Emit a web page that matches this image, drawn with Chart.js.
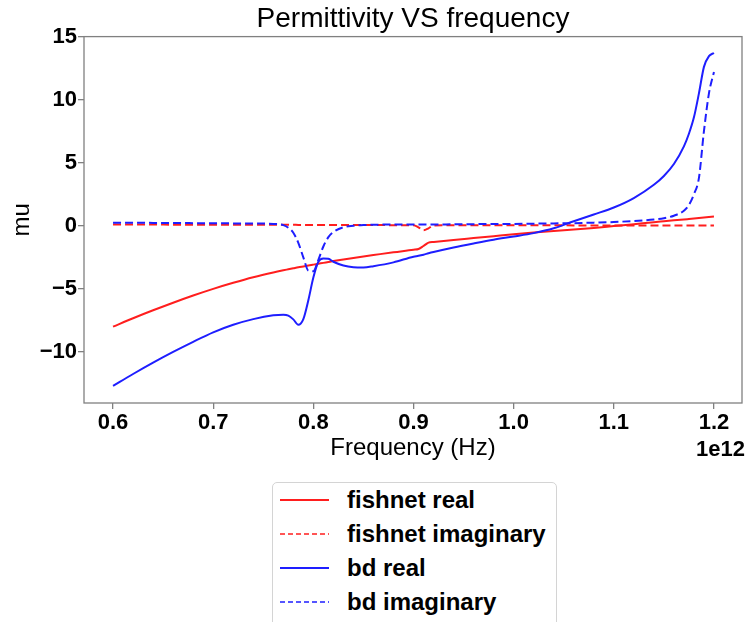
<!DOCTYPE html>
<html lang="en">
<head>
<meta charset="utf-8">
<title>Permittivity VS frequency</title>
<script src="https://cdn.jsdelivr.net/npm/chart.js"></script>
<style>
    html, body { margin: 0; padding: 0; background: #fff; overflow: hidden; }
    #chartContainer { position: relative; width: 746px; height: 622px; }
    #legendBox {
        position: absolute; left: 272px; top: 482px; width: 285px; height: 150px;
        border: 1px solid #d4d4d4; border-radius: 5px; background: #fff; box-sizing: border-box;
        font-family: "Liberation Sans", Arial, sans-serif; font-weight: bold; font-size: 24px; color: #000;
    }
    .legendItem { position: absolute; left: 7px; height: 34px; display: flex; align-items: center; white-space: nowrap; }
    .legendItem svg { margin-right: 18px; }
</style>
</head>
<body>

<div id="chartContainer">
    <canvas id="muChart" width="746" height="622"></canvas>
    <div id="legendBox"></div>
</div>

<script>
// Frequency in units of 1e12 Hz
const freq = [0.60, 0.62, 0.64, 0.66, 0.68, 0.70, 0.72, 0.74, 0.76, 0.77,
              0.775, 0.78, 0.785, 0.79, 0.795, 0.80, 0.805, 0.81, 0.815, 0.82,
              0.83, 0.84, 0.85, 0.86, 0.88, 0.90, 0.905, 0.91, 0.915, 0.92,
              0.94, 0.96, 0.98, 1.00, 1.02, 1.04, 1.06, 1.08, 1.10, 1.12,
              1.14, 1.15, 1.16, 1.17, 1.175, 1.18, 1.185, 1.19, 1.195, 1.20];

const fishnetReal = [-8.0, -7.33, -6.7, -6.1, -5.53, -5.0, -4.52, -4.08, -3.7, -3.53,
                     -3.45, -3.37, -3.29, -3.22, -3.15, -3.08, -3.01, -2.94, -2.87, -2.8,
                     -2.67, -2.55, -2.43, -2.32, -2.1, -1.9, -1.84, -1.6, -1.33, -1.28,
                     -1.12, -0.97, -0.82, -0.67, -0.54, -0.42, -0.3, -0.17, -0.02, 0.13,
                     0.29, 0.36, 0.43, 0.5, 0.54, 0.58, 0.62, 0.66, 0.7, 0.74];

const fishnetImag = [0.1, 0.1, 0.1, 0.09, 0.09, 0.09, 0.08, 0.08, 0.08, 0.08,
                     0.08, 0.08, 0.07, 0.07, 0.07, 0.07, 0.07, 0.07, 0.07, 0.07,
                     0.06, 0.06, 0.06, 0.06, 0.05, 0.05, -0.12, -0.36, -0.2, 0.03,
                     0.04, 0.04, 0.04, 0.04, 0.04, 0.04, 0.03, 0.03, 0.03, 0.03,
                     0.03, 0.03, 0.03, 0.03, 0.03, 0.03, 0.03, 0.03, 0.03, 0.03];

const bdReal = [-12.7, -11.75, -10.85, -10.0, -9.2, -8.45, -7.85, -7.4, -7.1, -7.05,
                -7.12, -7.42, -7.85, -7.4, -5.9, -4.1, -2.85, -2.6, -2.62, -2.85,
                -3.15, -3.28, -3.3, -3.2, -2.9, -2.45, -2.38, -2.29, -2.18, -2.08,
                -1.72, -1.4, -1.1, -0.85, -0.58, -0.2, 0.36, 0.9, 1.45, 2.2,
                3.25, 3.95, 4.9, 6.3, 7.3, 8.6, 10.5, 12.6, 13.45, 13.7];

const bdImag = [0.25, 0.24, 0.23, 0.22, 0.21, 0.2, 0.19, 0.18, 0.15, 0.05,
                -0.15, -0.55, -1.35, -2.5, -3.55, -3.6, -2.7, -1.64, -0.9, -0.5,
                -0.12, 0.0, 0.06, 0.08, 0.1, 0.1, 0.1, 0.1, 0.1, 0.1,
                0.12, 0.13, 0.14, 0.15, 0.17, 0.19, 0.21, 0.25, 0.3, 0.38,
                0.5, 0.6, 0.8, 1.2, 1.65, 2.5, 3.8, 7.5, 10.5, 12.2];

const seriesLabels = ['fishnet real', 'fishnet imaginary', 'bd real', 'bd imaginary'];
const xTicks = [0.6, 0.7, 0.8, 0.9, 1.0, 1.1, 1.2];
const yTicks = [-10, -5, 0, 5, 10, 15];

const FONT = '"Liberation Sans", Arial, sans-serif';
const RED = 'rgb(255, 30, 30)';
const BLUE = 'rgb(30, 30, 255)';

function toPoints(values) {
    return freq.map((f, i) => ({ x: f, y: values[i] }));
}

// box around the axes + the "1e12" offset text
const framePlugin = {
    id: 'frame',
    afterDatasetsDraw(chart) {
        const { ctx, chartArea: a } = chart;
        ctx.save();
        ctx.strokeStyle = '#808080';
        ctx.lineWidth = 1.3;
        ctx.strokeRect(a.left, a.top, a.right - a.left, a.bottom - a.top);
        ctx.restore();
    },
    afterDraw(chart) {
        const { ctx } = chart;
        const xs = chart.scales.x;
        ctx.save();
        ctx.font = 'bold 22px ' + FONT;
        ctx.fillStyle = '#000';
        ctx.textAlign = 'right';
        ctx.textBaseline = 'middle';
        ctx.fillText('1e12', xs.right + 3, xs.bottom - 13);
        ctx.restore();
    }
};

function makeDataset(label, values, color, dashed, order) {
    return {
        label: label,
        data: toPoints(values),
        borderColor: color,
        backgroundColor: color,
        borderWidth: 2,
        borderDash: dashed ? [8, 4] : [],
        pointRadius: 0,
        fill: false,
        cubicInterpolationMode: 'monotone',
        order: order
    };
}

const ctx = document.getElementById('muChart').getContext('2d');
const muChart = new Chart(ctx, {
    type: 'line',
    data: {
        datasets: [
            makeDataset(seriesLabels[0], fishnetReal, RED, false, 4),
            makeDataset(seriesLabels[1], fishnetImag, RED, true, 3),
            makeDataset(seriesLabels[2], bdReal, BLUE, false, 2),
            makeDataset(seriesLabels[3], bdImag, BLUE, true, 1)
        ]
    },
    options: {
        responsive: false,
        animation: false,
        devicePixelRatio: 1,
        layout: { padding: { left: 0, right: 4, top: 0, bottom: 159 } },
        plugins: {
            legend: { display: false },
            tooltip: { enabled: false },
            title: {
                display: true,
                fullSize: false,
                text: 'Permittivity VS frequency',
                color: '#000',
                font: { family: FONT, size: 28, weight: 'normal' },
                padding: { top: 2, bottom: 1 }
            }
        },
        scales: {
            x: {
                type: 'linear',
                min: 0.571,
                max: 1.228,
                afterBuildTicks: s => { s.ticks = xTicks.map(v => ({ value: v })); },
                afterFit: s => { s.height = 60; },
                border: { display: false },
                grid: { drawOnChartArea: false, drawTicks: true, tickLength: 6, color: '#808080', lineWidth: 1.3 },
                ticks: {
                    color: '#000',
                    font: { family: FONT, size: 22, weight: 'bold' },
                    padding: 1,
                    maxRotation: 0,
                    autoSkip: false,
                    callback: v => Number(v).toFixed(1)
                },
                title: {
                    display: true,
                    text: 'Frequency (Hz)',
                    color: '#000',
                    font: { family: FONT, size: 24, weight: 'normal' },
                    padding: { top: 0, bottom: 0 }
                }
            },
            y: {
                type: 'linear',
                min: -14.05,
                max: 15,
                afterBuildTicks: s => { s.ticks = yTicks.map(v => ({ value: v })); },
                afterFit: s => { s.width = 84; },
                border: { display: false },
                grid: { drawOnChartArea: false, drawTicks: true, tickLength: 6, color: '#808080', lineWidth: 1.3 },
                ticks: {
                    color: '#000',
                    font: { family: FONT, size: 22, weight: 'bold' },
                    padding: 1,
                    autoSkip: false,
                    callback: v => v < 0 ? '\u2212' + Math.abs(v) : String(v)
                },
                title: {
                    display: true,
                    text: 'mu',
                    color: '#000',
                    font: { family: FONT, size: 24, weight: 'normal' },
                    padding: { top: 8, bottom: 0 }
                }
            }
        }
    },
    plugins: [framePlugin]
});

// Legend below the chart, one entry per line, built from the datasets
function buildLegend(chart) {
    const box = document.getElementById('legendBox');
    chart.data.datasets.forEach((ds, i) => {
        const item = document.createElement('div');
        item.className = 'legendItem';
        item.style.top = (0.3 + 33.8 * i) + 'px';
        const dash = ds.borderDash.length ? '5 3' : 'none';
        const w = ds.borderDash.length ? 1.5 : 2;
        item.innerHTML =
            '<svg width="49" height="10"><line x1="0" y1="5" x2="49" y2="5" stroke="' + ds.borderColor +
            '" stroke-width="' + w + '" stroke-dasharray="' + dash + '"/></svg><span></span>';
        item.querySelector('span').textContent = ds.label;
        box.appendChild(item);
    });
}
buildLegend(muChart);
</script>

</body>
</html>
